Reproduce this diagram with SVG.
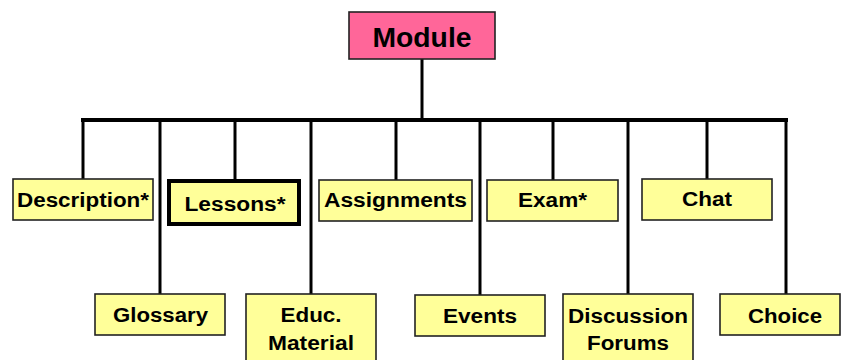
<svg xmlns="http://www.w3.org/2000/svg" width="841" height="360" viewBox="0 0 841 360">
<style>
.box{fill:#FFFF99;stroke:#222;stroke-width:1.6}
.thick{stroke:#000;stroke-width:4}
.root{fill:#FF6699;stroke:#222;stroke-width:1.6}
text{font-family:"Liberation Sans",Arial,sans-serif;font-weight:bold;fill:#000;text-anchor:middle}
.t{font-size:20px}
.big{font-size:27px}
.c{stroke:#000;stroke-width:3;fill:none;stroke-linecap:square}
</style>
<rect width="841" height="360" fill="#fff"/>
<g id="connectors">
<line class="c" x1="422" y1="60" x2="422" y2="120"/>
<line class="c" x1="83" y1="120" x2="786" y2="120" style="stroke-width:4"/>
<line class="c" x1="83" y1="120" x2="83" y2="179"/>
<line class="c" x1="160" y1="120" x2="160" y2="294"/>
<line class="c" x1="235" y1="120" x2="235" y2="179"/>
<line class="c" x1="311" y1="120" x2="311" y2="294"/>
<line class="c" x1="396" y1="120" x2="396" y2="180"/>
<line class="c" x1="480" y1="120" x2="480" y2="295"/>
<line class="c" x1="553" y1="120" x2="553" y2="180"/>
<line class="c" x1="628" y1="120" x2="628" y2="294"/>
<line class="c" x1="707" y1="120" x2="707" y2="179"/>
<line class="c" x1="786" y1="120" x2="786" y2="294"/>
</g>
<g id="module">
<rect class="root" x="349" y="12" width="146" height="47"/>
<text class="big" x="422" y="47" textLength="99" lengthAdjust="spacingAndGlyphs">Module</text>
</g>
<g id="description">
<rect class="box" x="13" y="179" width="140" height="41"/>
<text class="t" x="83" y="207" textLength="132" lengthAdjust="spacingAndGlyphs">Description*</text>
</g>
<g id="lessons">
<rect class="box thick" x="169" y="181" width="130" height="43"/>
<text class="t" x="235" y="211" textLength="101" lengthAdjust="spacingAndGlyphs">Lessons*</text>
</g>
<g id="assignments">
<rect class="box" x="319" y="180" width="153" height="41"/>
<text class="t" x="395.5" y="207" textLength="143" lengthAdjust="spacingAndGlyphs">Assignments</text>
</g>
<g id="exam">
<rect class="box" x="487" y="180" width="131" height="41"/>
<text class="t" x="552.5" y="207" textLength="69" lengthAdjust="spacingAndGlyphs">Exam*</text>
</g>
<g id="chat">
<rect class="box" x="642" y="179" width="130" height="41"/>
<text class="t" x="707" y="206" textLength="50" lengthAdjust="spacingAndGlyphs">Chat</text>
</g>
<g id="glossary">
<rect class="box" x="95" y="294" width="130" height="41"/>
<text class="t" x="160.5" y="322" textLength="95" lengthAdjust="spacingAndGlyphs">Glossary</text>
</g>
<g id="educ-material">
<rect class="box" x="246" y="294" width="130" height="70"/>
<text class="t" x="311" y="322" textLength="61" lengthAdjust="spacingAndGlyphs">Educ.</text>
<text class="t" x="311" y="350" textLength="86" lengthAdjust="spacingAndGlyphs">Material</text>
</g>
<g id="events">
<rect class="box" x="415" y="295" width="130" height="41"/>
<text class="t" x="480" y="323" textLength="74" lengthAdjust="spacingAndGlyphs">Events</text>
</g>
<g id="discussion-forums">
<rect class="box" x="563" y="294" width="130" height="70"/>
<text class="t" x="628" y="323" textLength="120" lengthAdjust="spacingAndGlyphs">Discussion</text>
<text class="t" x="628" y="350" textLength="82" lengthAdjust="spacingAndGlyphs">Forums</text>
</g>
<g id="choice">
<rect class="box" x="720" y="294" width="120" height="41"/>
<text class="t" x="785" y="323" textLength="74" lengthAdjust="spacingAndGlyphs">Choice</text>
</g>
</svg>
